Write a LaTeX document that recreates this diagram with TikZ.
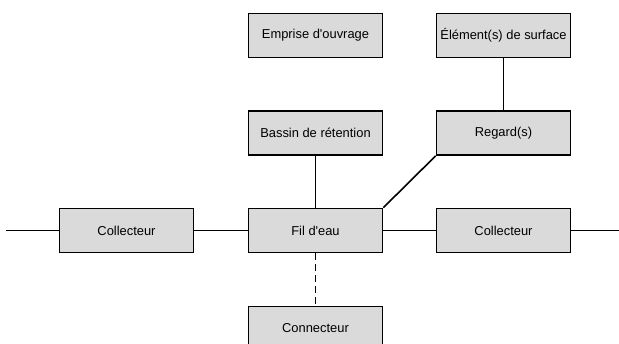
\documentclass[tikz,border=0pt]{standalone}
\usepackage{fontspec}
\setmainfont{Liberation Sans}[Ligatures=TeXOff]
\begin{document}
\begin{tikzpicture}[x=1pt,y=1pt,
  box/.style={draw=black,fill=boxgray,line width=1.7pt,minimum width=134pt,minimum height=44pt,inner sep=0pt,font=\fontsize{12.9}{15}\selectfont},
  link/.style={line width=1.6pt}]
\definecolor{boxgray}{HTML}{DADADA}
\useasboundingbox (0,0) rectangle (619,343);
\node[box] (emp) at (315.5,307.5) {Emprise d'ouvrage};
\node[box] (ele) at (503.5,307.5) {Élément(s) de surface};
\node[box] (bas) at (315.5,210) {Bassin de rétention};
\node[box] (reg) at (503.5,210) {Regard(s)};
\node[box] (colL) at (126.5,112.5) {Collecteur};
\node[box] (fil) at (315.5,112.5) {Fil d'eau};
\node[box] (colR) at (503.5,112.5) {Collecteur};
\node[box] (con) at (315.5,14.5) {Connecteur};
\coordinate (Lend) at (6,112.5);
\coordinate (Rend) at (619,112.5);
\draw[link] (Lend) -- (colL.west);
\draw[link] (colL.east) -- (fil.west);
\draw[link] (fil.east) -- (colR.west);
\draw[link] (colR.east) -- (Rend);
\draw[link] (bas.south) -- (fil.north);
\draw[link] (ele.south) -- (reg.north);
\draw[link] (fil.north east) -- (reg.south west);
\draw[link,dash pattern=on 7pt off 4pt] (fil.south) -- (con.north);
\end{tikzpicture}
\end{document}
